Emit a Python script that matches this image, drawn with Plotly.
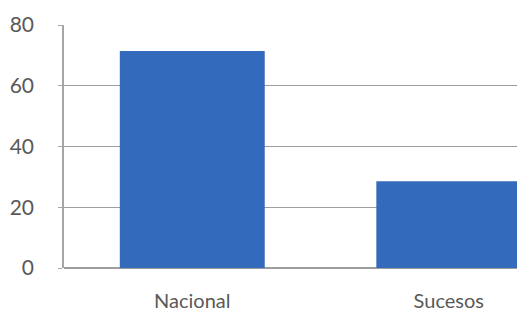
import plotly.graph_objects as go

categories = ["Nacional", "Sucesos"]
values = [71.4, 28.6]
y_ticks = [0, 20, 40, 60, 80]

fig = go.Figure()
fig.add_trace(go.Bar(
    x=categories, y=values, width=0.565,
    marker=dict(color="#336abb", line=dict(width=0)),
))

# page body has an 8px margin, so the figure is sized/offset to compensate
fig.update_layout(
    width=517, height=308,
    margin=dict(l=56, r=0, t=17, b=48),
    paper_bgcolor="white", plot_bgcolor="white",
    showlegend=False,
    font=dict(family="Lato", size=21, color="#595959"),
)
fig.update_xaxes(
    range=[-0.5, 1.297], showgrid=False, showline=False,
    ticks="", ticklabelstandoff=19, tickfont=dict(size=20),
)
fig.update_yaxes(
    range=[0, 80], tickvals=y_ticks, showgrid=True, gridcolor="#9e9e9e", gridwidth=1,
    showline=True, linecolor="#a6a6a6", linewidth=1.5,
    ticks="outside", ticklen=4, tickcolor="#a6a6a6",
    ticklabelstandoff=20, zeroline=True, zerolinecolor="#9e9e9e",
)
fig.write_html("out.html")
